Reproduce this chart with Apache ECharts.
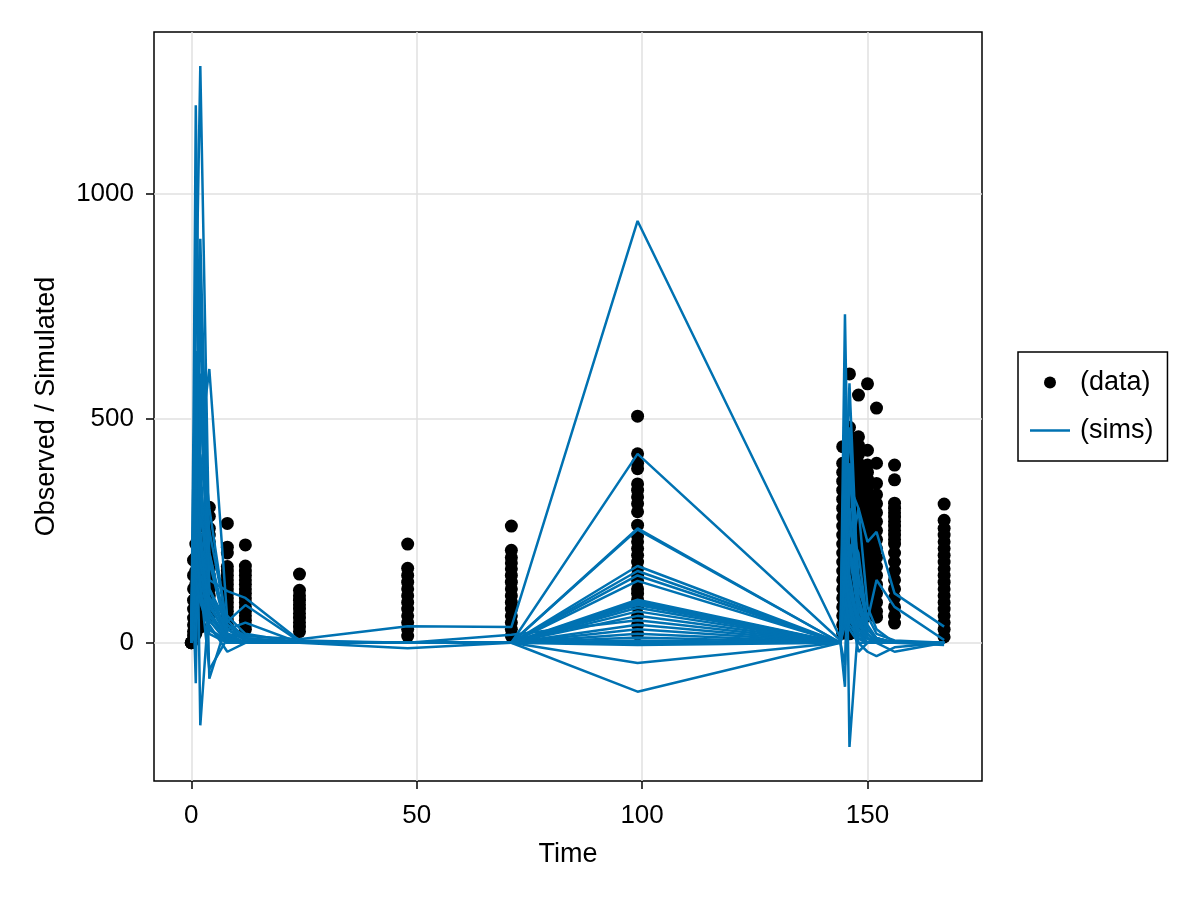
<!DOCTYPE html>
<html>
<head>
<meta charset="utf-8">
<script src="https://cdn.jsdelivr.net/npm/echarts@6/dist/echarts.min.js"></script>
<style>html,body{margin:0;padding:0;background:#fff;}#c{width:1200px;height:900px;}</style>
</head>
<body>
<div id="c"></div>
<script>
// ---- tick labels ----
const xTicks = [0, 50, 100, 150];
const yTicks = [0, 500, 1000];

// ---- observed data: times and values per time column ----
const dataTimes = [0, 0.5, 1, 2, 4, 8, 12, 24, 48, 71, 99, 144.5, 146, 148, 150, 152, 156, 167];
const d_t0 = [0, 0, 0];
const d_t05 = [184, 150, 120, 95, 75, 55, 40, 25, 15];
const d_t1 = [220, 190, 160, 130, 100, 80, 60, 40, 20];
const d_t2 = [260, 230, 200, 170, 140, 110, 85, 60, 35];
const d_t4 = [302, 282, 255, 240, 225, 210, 195, 180, 165, 150, 135, 120, 105, 90, 75, 60];
const d_t8 = [266, 213, 200, 170, 160, 150, 140, 130, 120, 110, 100, 90, 80, 70, 60, 50, 40];
const d_t12 = [218, 171, 160, 150, 140, 130, 120, 110, 100, 90, 80, 70, 60, 50, 40, 30];
const d_t24 = [153, 117, 105, 95, 85, 75, 65, 55, 45, 35, 25];
const d_t48 = [220, 166, 150, 135, 120, 105, 90, 75, 60, 45, 30, 15];
const d_t71 = [260, 206, 190, 178, 165, 150, 135, 120, 105, 90, 75, 60, 45, 30, 15];
const d_t99 = [505, 421, 400, 388, 354, 340, 325, 310, 292, 262, 238, 225, 210, 195, 180, 165, 150, 138, 120, 110, 96, 80, 60, 40, 20];
const d_t1445 = [437, 400, 380, 360, 340, 320, 300, 280, 260, 240, 220, 200, 180, 160, 140, 120, 100, 80, 60, 40, 21];
const d_t146 = [599, 480, 460, 440, 420, 400, 380, 360, 340, 320, 300, 280, 260, 240, 220, 200, 180, 160, 140, 120, 100, 80, 60, 40, 20];
const d_t148 = [552, 459, 440, 420, 400, 380, 360, 340, 320, 300, 280, 260, 240, 220, 200, 180, 160, 140, 120, 100, 80, 60, 40];
const d_t150 = [577, 429, 396, 380, 365, 350, 335, 320, 305, 290, 275, 260, 240, 220, 200, 180, 160, 140, 120, 100, 80, 60];
const d_t152 = [523, 400, 355, 330, 310, 290, 270, 250, 230, 210, 190, 170, 150, 130, 110, 90, 70, 57];
const d_t156 = [396, 363, 311, 300, 290, 280, 270, 260, 250, 240, 230, 220, 200, 180, 160, 140, 120, 100, 80, 60, 44];
const d_t167 = [309, 273, 255, 240, 225, 210, 195, 180, 165, 150, 135, 120, 105, 90, 75, 60, 45, 30, 13];
const dataColumns = [d_t0, d_t05, d_t1, d_t2, d_t4, d_t8, d_t12, d_t24, d_t48, d_t71, d_t99, d_t1445, d_t146, d_t148, d_t150, d_t152, d_t156, d_t167];

// ---- simulations: common time grid, one array per simulated profile ----
const simTimes = [0, 0.5, 1, 2, 4, 8, 12, 24, 48, 71, 99, 144, 145, 146, 148, 150, 152, 156, 167];
const sim01 = [0, 150, 420, 300, 120, 40, 15, 8, 37, 35, 940, 10, 250, 480, 120, 60, 20, 5, 0];
const sim02 = [0, 300, 700, 1285, 200, 30, 5, 0, 0, 0, 421, 5, 732, 150, 30, 10, 0, 0, 0];
const sim03 = [0, 500, 1198, 400, 60, 10, 0, 0, 0, 0, 255, 0, 300, 578, 100, 30, 10, 0, 0];
const sim04 = [0, 100, 250, 450, 610, 50, 10, 0, 0, 0, 252, 0, 200, 350, 300, 225, 247, 110, 36];
const sim05 = [0, 200, 500, -184, 100, 20, 0, 0, 0, 0, 171, 0, -98, 400, 150, 50, 140, 80, 6];
const sim06 = [0, 250, 960, 350, 50, 0, 0, 0, 0, 0, 160, 0, 500, -232, 50, 10, 0, -20, 0];
const sim07 = [0, 80, -90, 600, 140, 115, 100, 5, 0, 0, 150, 0, 150, 300, 80, 20, 5, 0, 0];
const sim08 = [0, 120, 350, 800, -80, 47, 84, 3, 0, 0, 138, 0, 400, 200, 60, 30, 10, 0, 0];
const sim09 = [0, 60, 200, 500, 300, 30, 45, 0, -12, 0, 96, 0, 100, 250, 200, 40, 10, 0, 0];
const sim10 = [0, 180, 450, 250, 80, 20, 10, 0, 0, 0, 92, 0, 350, 100, 0, -20, -30, -10, 0];
const sim11 = [0, 40, 150, 350, 200, 15, 0, 0, 0, 0, 88, 0, 60, 180, 300, 80, 30, 0, -5];
const sim12 = [0, 90, 300, 150, 40, -20, 0, 0, 0, 0, 84, 0, 200, 50, 20, 0, 0, 0, 0];
const sim13 = [0, 300, 650, 200, 20, 0, 0, 0, 0, 0, 78, 0, 80, 150, 40, 10, 0, 0, 0];
const sim14 = [0, 20, 100, 200, 100, 60, 20, 0, 0, 0, 70, 0, 550, 280, 100, 20, 0, 0, 0];
const sim15 = [0, 400, 200, 100, 30, 5, 0, 0, 0, 0, 60, 0, 250, 120, 30, 0, 0, 0, 0];
const sim16 = [0, 70, 250, 550, 90, 10, 0, 0, 0, 18, 50, 0, 120, 400, 60, 10, 0, 0, 0];
const sim17 = [0, 150, 380, 120, 30, 0, 0, 0, 0, 0, 40, 0, -50, 200, 150, 30, 10, 0, 0];
const sim18 = [0, 30, 120, 280, 180, 20, 0, 0, 0, 0, 30, 0, 180, 60, 20, 0, 0, 0, 0];
const sim19 = [0, 220, 480, 700, 50, 5, 0, 0, 0, 0, 20, 0, 320, 100, 10, 0, 0, 0, 0];
const sim20 = [0, 50, 180, 420, 250, 40, 5, 0, 0, 0, 12, 0, 90, 220, 80, 20, 0, 0, 0];
const sim21 = [0, 100, 250, 180, 60, 10, 0, 0, 0, 0, 5, 0, 140, 60, 10, 0, 0, 0, 0];
const sim22 = [0, 10, 80, 150, 100, 30, 10, 0, 0, 0, 0, 0, 40, 120, 50, 10, 0, 0, 0];
const sim23 = [0, 60, 140, 90, 30, 0, 0, 0, 0, 0, 0, 0, 60, 30, 0, 0, 0, 0, 0];
const sim24 = [0, 130, 300, 220, 70, 10, 0, 0, 0, 0, -5, 0, 220, 90, 20, 0, 0, 0, 0];
const sim25 = [0, 80, 200, 130, -60, 10, 0, 0, 0, 0, -45, 0, 100, 40, 10, 0, 0, 0, 0];
const sim26 = [0, 160, 330, 900, 120, 20, 0, 0, 0, 0, -109, 0, 160, 80, -20, 0, 0, 0, 0];
const sims = [sim01, sim02, sim03, sim04, sim05, sim06, sim07, sim08, sim09, sim10, sim11, sim12, sim13,
              sim14, sim15, sim16, sim17, sim18, sim19, sim20, sim21, sim22, sim23, sim24, sim25, sim26];

const FONT = 'Liberation Sans';
const BLUE = '#0072B2';

const scatterData = [];
dataTimes.forEach((t, i) => dataColumns[i].forEach(v => scatterData.push([t, v])));

const series = [{
  name: '(data)', type: 'scatter', symbol: 'circle', symbolSize: 13,
  itemStyle: { color: '#000', opacity: 1 }, data: scatterData, z: 2
}];
sims.forEach(s => series.push({
  name: '(sims)', type: 'line', symbol: 'none', showSymbol: false,
  lineStyle: { color: BLUE, width: 2.5 }, itemStyle: { color: BLUE },
  data: simTimes.map((t, i) => [t, s[i]]), z: 3
}));

const chart = echarts.init(document.getElementById('c'), null, { renderer: 'canvas' });
chart.setOption({
  animation: false,
  backgroundColor: '#fff',
  grid: { left: 154, top: 32, width: 828, height: 749, show: true, borderColor: '#000', borderWidth: 1.5, backgroundColor: 'transparent' },
  xAxis: {
    type: 'value', min: -8.27, max: 175.4,
    name: 'Time', nameLocation: 'middle', nameGap: 60,
    nameTextStyle: { fontFamily: FONT, fontSize: 27, color: '#000' },
    axisLine: { show: false, onZero: false },
    axisTick: { show: true, inside: false, length: 8, lineStyle: { color: '#000', width: 1.5 }, customValues: xTicks },
    axisLabel: { fontFamily: FONT, fontSize: 26, color: '#000', margin: 22, customValues: xTicks, formatter: v => String(v) },
    splitLine: { show: true, lineStyle: { color: '#e0e0e0', width: 1.5 } }
  },
  yAxis: {
    type: 'value', min: -308, max: 1361,
    name: 'Observed / Simulated', nameLocation: 'middle', nameGap: 94, nameRotate: 90,
    nameTextStyle: { fontFamily: FONT, fontSize: 27, color: '#000' },
    axisLine: { show: false, onZero: false },
    axisTick: { show: true, inside: false, length: 8, lineStyle: { color: '#000', width: 1.5 }, customValues: yTicks },
    axisLabel: { fontFamily: FONT, fontSize: 26, color: '#000', margin: 20, customValues: yTicks, formatter: v => String(v) },
    splitLine: { show: true, lineStyle: { color: '#e0e0e0', width: 1.5 } }
  },
  legend: {
    show: true, orient: 'vertical', left: 1018, top: 352,
    padding: [17, 14, 17, 12], itemGap: 21, itemWidth: 40, itemHeight: 12,
    borderColor: '#000', borderWidth: 1.5, backgroundColor: '#fff',
    textStyle: { fontFamily: FONT, fontSize: 27, color: '#000', padding: [0, 0, 0, 5] },
    data: [
      { name: '(data)', icon: 'circle', itemStyle: { color: '#000', opacity: 1 } },
      { name: '(sims)', icon: 'path://M0,0L40,0L40,2.5L0,2.5Z', itemStyle: { color: BLUE, borderWidth: 0 } }
    ]
  },
  series: series
});
</script>
</body>
</html>
